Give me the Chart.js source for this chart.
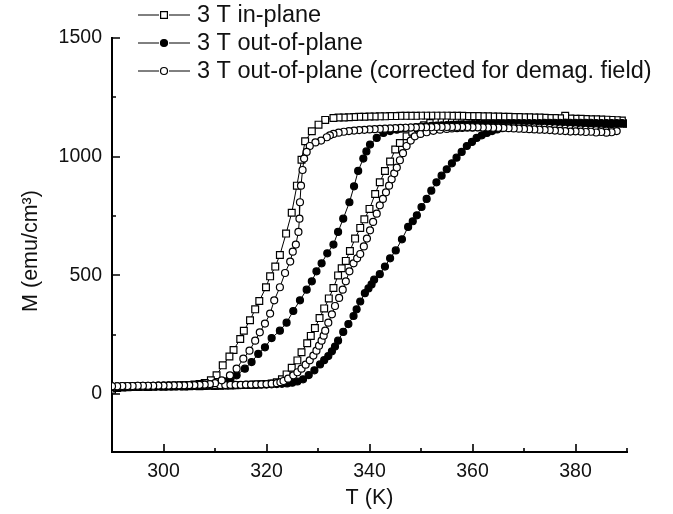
<!DOCTYPE html>
<html><head><meta charset="utf-8">
<script src="https://cdn.jsdelivr.net/npm/chart.js@4/dist/chart.umd.min.js"></script>
<style>html,body{margin:0;padding:0;background:#fff}canvas{display:block}</style>
</head><body>
<canvas id="c" width="673" height="514"></canvas>
<script>
// ---- axis ticks ----
const xTicks = [300, 320, 340, 360, 380];
const xMinorTicks = [310, 330, 350, 370, 390];
const yTicks = [0, 500, 1000, 1500];
const yMinorTicks = [250, 750, 1250];

const seriesNames = ["3 T in-plane", "3 T out-of-plane", "3 T out-of-plane (corrected for demag. field)"];

// ---- 3 T in-plane (open squares) ----
const inPlaneHeatT = [290,291,292,293,294,295,296,297,298,299,300,301,302,303,304,305,306,307,308,309,310,311,312,313,314,315,316,317,318,319,320,321,322,
  323,323.9,324.9,326.0,326.8,327.9,328.6,329.4,330.3,331.2,332.1,333.0,333.9,334.6,335.4,336.2,337.2,338.2,339.0,340.0,341.1,342.0,343.0,344.0,345.0,345.9,347.2,348.3,349.4,350.6,351.8,353,354,355,356,
  357,358,359,360,361,362,363,364,365,366,367,368,369,370,371,372,373,374,375,376,377,378,379,380,381,382,383,384,385,386,387,388,389,390];
const inPlaneHeatM = [18,26,28,29,30,30,31,30,31,32,31,32,32,33,32,33,34,33,34,35,34,35,36,36,37,38,38,39,40,41,43,45,50,
  62,83,111,142,176,214,245,278,320,361,403,447,500,530,561,603,655,700,736,780,843,892,940,980,1030,1058,1086,1105,1120,1132,1142,1150,1155,1158,1160,
  1162,1163,1162,1163,1162,1161,1160,1161,1159,1158,1158,1157,1156,1156,1155,1154,1153,1153,1152,1151,1150,1150,1149,1148,1147,1146,1146,1145,1144,1143,1142,1141,1140,1139];
const inPlaneCoolT = [389,388,387,386,385,384,383,382,381,380,379,378,377,376,375,374,373,372,371,370,369,368,367,366,365,364,363,362,361,360,359,358,357,356,355,354,353,352,351,350,349,348,347,346,345,344,343,342,341,340,339,338,337,336,335,334,
  333.0,331.4,330.1,328.8,327.5,326.8,325.9,324.9,323.8,322.6,321.7,320.7,319.9,318.6,317.8,316.8,315.6,314.9,313.6,312.8,311.5,310.3,309.2,
  308,307,306,305,304,303,302,301,300,299,298,297,296,295,294,293,292,291,290];
const inPlaneCoolM = [1152,1154,1155,1156,1157,1158,1158,1159,1160,1160,1161,1172,1162,1163,1163,1164,1165,1165,1166,1166,1167,1167,1168,1168,1169,1169,1170,1170,1171,1171,1171,1172,1172,1172,1173,1173,1173,1173,1173,1173,1172,1172,1172,1172,1171,1171,1170,1170,1169,1169,1168,1168,1167,1166,1165,1165,
  1163,1155,1135,1107,1065,987,878,764,676,586,537,496,450,392,357,311,267,232,186,158,121,79,58,
  47,42,40,38,37,36,35,35,34,34,33,33,32,32,31,31,30,29,28];

// ---- 3 T out-of-plane (filled circles) ----
const outPlaneHeatT = [290,291,292,293,294,295,296,297,298,299,300,301,302,303,304,305,306,307,308,309,310,311,312,313,314,315,316,317,318,319,320,321,322,323,324,325,326,
  327.1,328.2,329.3,330.4,331.2,332.0,332.7,333.3,333.9,334.9,335.9,336.9,337.5,338.2,339.1,339.8,340.4,340.9,342.0,343.0,344.0,345.1,346.3,347.5,348.4,349.2,350.1,351.1,352.0,353.0,354.0,355.0,356.0,356.9,357.9,358.9,359.9,360.8,361.8,362.8,363.8,364.8,365.8,366.8,367.8,368.8,369.8,
  371,372,373,374,375,376,377,378,379,380,381,382,383,384,385,386,387,388,389,390];
const outPlaneHeatM = [30,31,32,32,33,33,33,34,34,34,35,35,35,35,36,36,36,36,37,37,37,37,38,38,38,38,39,39,39,40,40,41,42,43,45,48,53,
  62,80,100,125,143,160,180,200,225,262,295,329,357,390,425,445,462,482,505,537,572,605,652,704,728,753,788,822,857,892,920,947,972,996,1020,1045,1062,1079,1090,1100,1108,1115,1120,1125,1128,1130,1132,
  1133,1134,1134,1135,1135,1136,1136,1137,1137,1137,1138,1138,1138,1138,1139,1139,1139,1139,1140,1140];
const outPlaneCoolT = [389,388,387,386,385,384,383,382,381,380,379,378,377,376,375,374,373,372,371,370,369,368,367,366,365,364,363,362,361,360,359,358,357,356,355,354,353,352,351,350,349,348,347,
  346.1,345.3,344.0,342.7,341.4,340.1,339.4,338.8,337.8,337.0,336.1,334.9,333.9,333.0,331.8,330.7,329.7,328.8,327.8,326.5,325.2,323.9,322.6,321.0,319.7,318.4,317.1,315.8,314.2,
  313,312,311,310,309,308,307,306,305,304,303,302,301,300,299,298,297,296,295,294,293,292,291,290];
const outPlaneCoolM = [1141,1141,1142,1142,1142,1142,1143,1143,1143,1143,1143,1143,1143,1143,1143,1143,1142,1142,1142,1142,1141,1141,1141,1140,1140,1139,1139,1138,1138,1137,1136,1136,1135,1134,1133,1132,1131,1130,1128,1127,1125,1123,1121,
  1118,1114,1108,1100,1079,1051,1022,992,940,875,808,739,683,630,593,551,517,475,440,395,350,301,267,236,197,169,135,107,79,
  62,52,46,43,41,40,39,38,38,37,37,36,36,35,35,35,34,34,34,33,33,33,32,32];

// ---- 3 T out-of-plane, corrected for demag. field (open circles) ----
const correctedHeatT = [290,291,292,293,294,295,296,297,298,299,300,301,302,303,304,305,306,307,308,309,310,311,312,313,314,315,316,317,318,319,320,321,322,
  322.7,323.3,324.2,325.2,326.0,326.8,327.6,328.4,329.1,329.7,330.2,330.7,331.1,331.4,332.0,332.7,333.3,334.1,334.8,335.4,336.1,336.9,337.6,338.2,338.9,339.5,340.1,340.7,341.4,342.0,342.6,343.2,343.8,344.3,344.8,345.3,345.9,346.5,347.2,348.0,348.8,349.9,351.1,352.4,353.7,355,356,357,
  358,359,360,361,362,363,364,365,366,367,368,369,370,371,372,373,374,375,376,377,378,379,380,381,382,383,384,385,386,387,388];
const correctedHeatM = [33,33,34,34,34,35,35,35,35,36,36,36,36,36,37,37,37,37,37,38,38,38,38,39,39,39,40,40,41,41,42,44,46,
  50,55,65,79,92,107,124,142,162,183,204,225,246,267,301,336,371,405,440,475,517,551,572,590,622,655,690,725,760,795,822,850,878,905,930,954,985,1015,1045,1068,1086,1096,1103,1109,1114,1117,1119,1120,
  1121,1122,1122,1123,1123,1123,1124,1124,1124,1124,1124,1124,1123,1123,1123,1122,1122,1121,1120,1119,1118,1117,1116,1115,1114,1113,1112,1111,1110,1109,1108];
const correctedCoolT = [387,386,385,384,383,382,381,380,379,378,377,376,375,374,373,372,371,370,369,368,367,366,365,364,363,362,361,360,359,358,357,356,355,354,353,352,351,350,349,348,347,346,345,344,343,342,341,340,339,338,337,336,335,334,
  333.0,332.3,331.7,330.6,329.5,328.4,327.8,327.3,327.0,326.7,326.5,326.4,326.2,325.7,325.1,324.6,323.6,322.6,321.5,320.7,319.7,318.7,317.8,316.7,315.5,314.2,312.9,311.3,
  310,309,308,307,306,305,304,303,302,301,300,299,298,297,296,295,294,293,292,291,290];
const correctedCoolM = [1103,1101,1104,1102,1105,1104,1106,1107,1106,1108,1109,1110,1112,1113,1114,1115,1116,1117,1118,1119,1120,1121,1122,1122,1123,1123,1124,1124,1125,1125,1125,1125,1125,1125,1125,1124,1124,1124,1123,1123,1122,1121,1120,1119,1118,1117,1116,1115,1113,1112,1110,1108,1105,1101,
  1096,1090,1082,1068,1060,1045,1020,992,944,878,808,739,683,630,600,558,510,450,395,339,297,260,225,183,149,107,79,58,
  46,42,40,39,38,38,37,37,37,36,36,36,35,35,35,35,34,34,34,33,33];

function pts(tA, mA, tB, mB) {
  const out = [];
  for (let i = 0; i < tA.length; i++) out.push({x: tA[i], y: mA[i]});
  for (let i = 0; i < tB.length; i++) out.push({x: tB[i], y: mB[i]});
  return out;
}

const FONT = "'Liberation Sans', Arial, Helvetica, sans-serif";
const INK = '#111';

const styles = [
  {pointStyle: 'rect', radius: 4.8, fill: '#fff'},
  {pointStyle: 'circle', radius: 3.5, fill: '#000'},
  {pointStyle: 'circle', radius: 3.5, fill: '#fff'}
];

const datasets = [
  {label: seriesNames[0], data: pts(inPlaneHeatT, inPlaneHeatM, inPlaneCoolT, inPlaneCoolM), order: 3},
  {label: seriesNames[1], data: pts(outPlaneHeatT, outPlaneHeatM, outPlaneCoolT, outPlaneCoolM), order: 2},
  {label: seriesNames[2], data: pts(correctedHeatT, correctedHeatM, correctedCoolT, correctedCoolM), order: 1}
].map((d, i) => Object.assign(d, {
  showLine: true,
  borderColor: '#000',
  borderWidth: 1,
  pointStyle: styles[i].pointStyle,
  pointRadius: styles[i].radius,
  pointBorderWidth: 1.2,
  pointBorderColor: '#000',
  pointBackgroundColor: styles[i].fill,
  tension: 0
}));

const tickMarks = {
  id: 'tickMarks',
  beforeDatasetsDraw(chart) {
    const ctx = chart.ctx, xs = chart.scales.x, ys = chart.scales.y;
    const a = chart.chartArea;
    ctx.save();
    ctx.strokeStyle = '#000';
    ctx.lineWidth = 1.6;
    ctx.beginPath();
    xTicks.forEach(v => { const p = Math.round(xs.getPixelForValue(v)); ctx.moveTo(p, a.bottom); ctx.lineTo(p, a.bottom - 8); });
    xMinorTicks.forEach(v => { const p = Math.round(xs.getPixelForValue(v)); ctx.moveTo(p, a.bottom); ctx.lineTo(p, a.bottom - 4); });
    yTicks.forEach(v => { const p = Math.round(ys.getPixelForValue(v)); ctx.moveTo(a.left, p); ctx.lineTo(a.left + 8, p); });
    yMinorTicks.forEach(v => { const p = Math.round(ys.getPixelForValue(v)); ctx.moveTo(a.left, p); ctx.lineTo(a.left + 4, p); });
    ctx.stroke();
    ctx.restore();
  }
};

const legendBox = {
  id: 'legendBox',
  afterDraw(chart) {
    const ctx = chart.ctx;
    const rowsY = [15, 43, 71];
    const x0 = 138, x1 = 190, tx = 197;
    ctx.save();
    seriesNames.forEach((name, i) => {
      const y = rowsY[i];
      ctx.strokeStyle = '#000';
      ctx.lineWidth = 1;
      ctx.beginPath(); ctx.moveTo(x0, y); ctx.lineTo(x1, y); ctx.stroke();
      ctx.fillStyle = '#fff'; ctx.fillRect((x0 + x1) / 2 - 5, y - 5, 10, 10);
      ctx.fillStyle = styles[i].fill;
      ctx.strokeStyle = '#000';
      ctx.lineWidth = 1.2;
      Chart.helpers.drawPoint(ctx, {pointStyle: styles[i].pointStyle, radius: styles[i].radius, rotation: 0, borderWidth: 1.2}, (x0 + x1) / 2, y);
      ctx.fillStyle = INK;
      ctx.font = '23.5px ' + FONT;
      ctx.textBaseline = 'middle';
      ctx.textAlign = 'left';
      ctx.fillText(name, tx, y + 1);
    });
    ctx.restore();
  }
};

new Chart(document.getElementById('c'), {
  type: 'scatter',
  data: {datasets},
  plugins: [tickMarks, legendBox],
  options: {
    responsive: false,
    animation: false,
    devicePixelRatio: 1,
    layout: {padding: {left: 10, right: 46, top: 38, bottom: 0}},
    plugins: {legend: {display: false}, tooltip: {enabled: false}},
    scales: {
      x: {
        type: 'linear', position: 'bottom', min: 290, max: 390,
        afterBuildTicks(s) { s.ticks = xTicks.map(v => ({value: v})); },
        afterFit(s) { s.height = 62; },
        grid: {display: false, drawTicks: false},
        border: {display: true, color: '#000', width: 2},
        ticks: {color: INK, font: {family: FONT, size: 19.5}, padding: 8, maxRotation: 0, autoSkip: false, callback: v => String(v)},
        title: {display: true, text: 'T (K)', color: INK, font: {family: FONT, size: 21.5}, padding: {top: 0, bottom: 3}}
      },
      y: {
        type: 'linear', position: 'left', min: -244, max: 1500,
        afterBuildTicks(s) { s.ticks = yTicks.map(v => ({value: v})); },
        afterFit(s) { s.width = 102; },
        grid: {display: false, drawTicks: false},
        border: {display: true, color: '#000', width: 2},
        ticks: {color: INK, font: {family: FONT, size: 19.5}, padding: 10, autoSkip: false, callback: v => String(v)},
        title: {display: true, text: 'M (emu/cm³)  ', color: INK, font: {family: FONT, size: 21.5}, padding: {top: 8, bottom: 0}}
      }
    }
  }
});
</script>
</body></html>
